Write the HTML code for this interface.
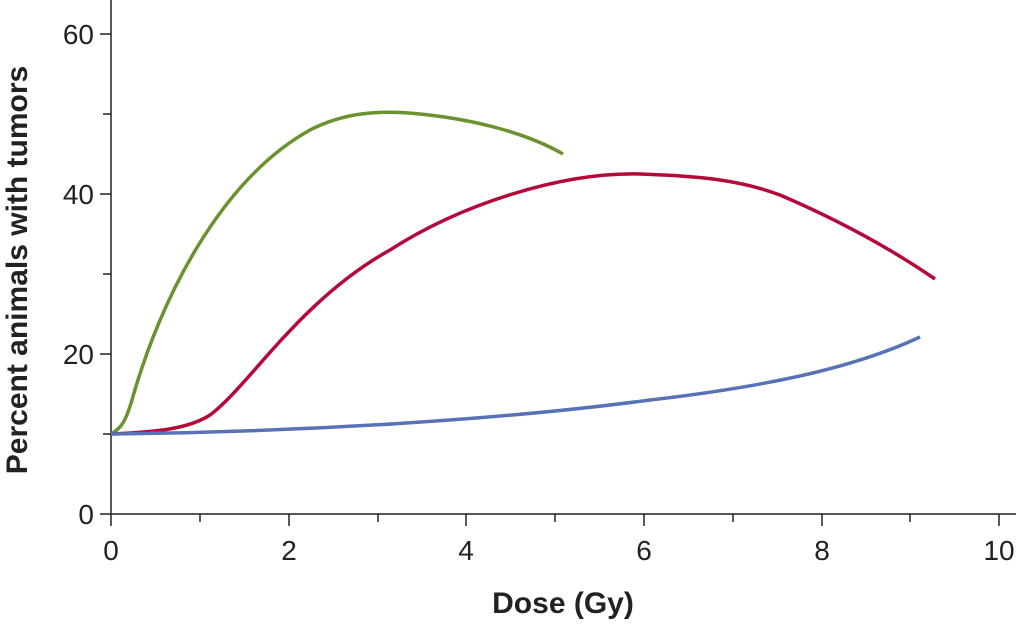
<!DOCTYPE html>
<html><head><style>body{margin:0;background:#fff}</style></head><body>
<svg width="1018" height="620" xmlns="http://www.w3.org/2000/svg" font-family="Liberation Sans, sans-serif">
<g stroke="#222" stroke-width="1.5" fill="none">
<line x1="111" y1="0" x2="111" y2="514"/>
<line x1="111" y1="514" x2="1016" y2="514"/>
<line x1="100" y1="514" x2="111" y2="514"/>
<line x1="103" y1="434" x2="111" y2="434"/>
<line x1="100" y1="354" x2="111" y2="354"/>
<line x1="103" y1="274" x2="111" y2="274"/>
<line x1="100" y1="194" x2="111" y2="194"/>
<line x1="103" y1="114" x2="111" y2="114"/>
<line x1="100" y1="34" x2="111" y2="34"/>
<line x1="111" y1="514" x2="111" y2="526"/>
<line x1="200" y1="514" x2="200" y2="522"/>
<line x1="289" y1="514" x2="289" y2="526"/>
<line x1="378" y1="514" x2="378" y2="522"/>
<line x1="466" y1="514" x2="466" y2="526"/>
<line x1="555" y1="514" x2="555" y2="522"/>
<line x1="644" y1="514" x2="644" y2="526"/>
<line x1="733" y1="514" x2="733" y2="522"/>
<line x1="822" y1="514" x2="822" y2="526"/>
<line x1="910" y1="514" x2="910" y2="522"/>
<line x1="999" y1="514" x2="999" y2="526"/>
</g>
<g font-size="28" fill="#222" text-anchor="end">
<text x="94" y="524">0</text><text x="94" y="364">20</text><text x="94" y="204">40</text><text x="94" y="44">60</text>
</g>
<g font-size="28" fill="#222" text-anchor="middle">
<text x="111" y="560">0</text><text x="289" y="560">2</text><text x="466" y="560">4</text><text x="644" y="560">6</text><text x="822" y="560">8</text><text x="999" y="560">10</text>
</g>
<text x="563" y="613" font-size="30" font-weight="bold" text-anchor="middle" fill="#222">Dose (Gy)</text>
<text transform="translate(27,270) rotate(-90)" font-size="30" font-weight="bold" text-anchor="middle" fill="#222">Percent animals with tumors</text>
<g fill="none" stroke-width="3.5">
<path d="M111,434 C122,428 126,420 132,400 C160,300 220,180 310,130 C345,112 380,110 420,114 C480,120 530,135 563,154" stroke="#6a922e"/>
<path d="M111,434 C160,432 190,428 210,415 C250,385 300,300 390,250 C460,205 560,172 640,174 C700,176 740,180 780,195 C850,225 900,255 935,279" stroke="#b5093a"/>
<path d="M111,434 C300,432 500,420 650,400 C780,385 860,365 920,337" stroke="#5872b8"/>
</g>
</svg>
</body></html>
